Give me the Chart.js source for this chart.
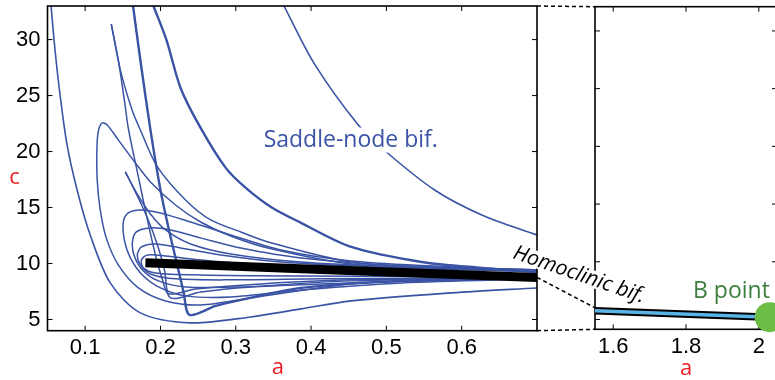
<!DOCTYPE html>
<html>
<head>
<meta charset="utf-8">
<script src="https://cdn.jsdelivr.net/npm/chart.js@4.4.0/dist/chart.umd.min.js"></script>
<style>
  html, body { margin: 0; padding: 0; background: #fff; overflow: hidden; }
  #wrap { position: relative; width: 775px; height: 380px; overflow: hidden; }
  canvas { position: absolute; left: 0; top: 0; }
</style>
</head>
<body>
<div id="wrap">
  <canvas id="mainChart" width="775" height="380"></canvas>
  <canvas id="zoomChart" width="800" height="380"></canvas>
</div>
<script>
// axis ticks
const mainXTicks = [0.1, 0.2, 0.3, 0.4, 0.5, 0.6];
const mainYTicks = [5, 10, 15, 20, 25, 30];
const zoomXTicks = [1.6, 1.8, 2.0];
const zoomYTicks = [5, 6, 7, 8, 9, 10];

// saddle-node curves, [a, c] pairs
const outerCurve = [[0.0547,33],[0.06,29.07],[0.0667,25.05],[0.076,20.59],[0.0893,16.57],[0.1067,12.55],[0.1333,8.27],[0.1733,5.59],[0.24,4.7],[0.32,5.23],[0.3867,5.95],[0.4533,6.66],[0.5867,7.38],[0.7,7.82]];
const saddleCurve = [[0.364,33],[0.404,27.88],[0.4627,22.38],[0.5,19.96],[0.564,16.57],[0.6267,14.34],[0.7,12.55]];
const curveD = [[0.1907,33],[0.208,29.96],[0.2267,25.68],[0.2533,22.11],[0.2867,18.54],[0.3133,16.75],[0.3467,15.05],[0.3867,13.63],[0.4533,11.48],[0.5467,10.14],[0.6267,9.61],[0.7,9.25]];
const curveC = [[0.1636,33],[0.1733,28.18],[0.1867,21.93],[0.2,16.57],[0.2107,13.18],[0.2213,10.14],[0.2307,7.46],[0.2387,5.41],[0.2733,6.21],[0.3067,6.75],[0.3867,7.82],[0.52,8.45],[0.7,8.71]];
const cuspBUpper = [[0.1347,31.39],[0.1467,27.29],[0.1623,23.71],[0.1733,21.93],[0.196,18.63],[0.2333,15.68],[0.2667,13.89],[0.3067,12.82],[0.3427,11.93],[0.4533,10.14],[0.5867,9.61],[0.7,9.34]];
const cuspBLower = [[0.1347,31.39],[0.144,28.18],[0.152,24.61],[0.1577,21.93],[0.1707,17.73],[0.1827,13.89],[0.1933,10.77],[0.2027,8.54],[0.2107,7.29],[0.2467,7.73],[0.3333,8.18],[0.4533,8.54],[0.7,8.75]];
const loopE = [[0.7,8.71],[0.5867,8.54],[0.4533,8.18],[0.32,6.93],[0.2533,6.3],[0.2067,6.66],[0.1707,7.82],[0.144,9.88],[0.128,12.29],[0.12,14.79],[0.116,17.46],[0.1156,20.14],[0.1173,21.75],[0.1223,22.55],[0.1293,22.38],[0.144,21.04],[0.1667,18.98],[0.1867,17.29],[0.22,15.23],[0.2533,13.71],[0.2933,12.46],[0.3427,11.39],[0.4533,9.96],[0.5867,9.52],[0.7,9.25]];
const cuspFLower = [[0.1533,18.18],[0.1667,16.39],[0.1827,14.07],[0.196,11.66],[0.2053,9.43],[0.2133,6.93],[0.2533,7.46],[0.32,7.91],[0.4533,8.45],[0.7,8.71]];
const cuspFUpper = [[0.1533,18.18],[0.1707,16.04],[0.1867,14.43],[0.2067,13.0],[0.24,11.75],[0.2933,10.86],[0.3867,10.14],[0.52,9.7],[0.7,9.34]];
const loop1 = [[0.7,9.43],[0.5867,9.7],[0.4533,10.23],[0.36,11.21],[0.2933,12.55],[0.24,13.71],[0.2,14.52],[0.1733,14.79],[0.1573,14.52],[0.1507,13.71],[0.152,12.11],[0.16,10.5],[0.176,8.98],[0.2,7.82],[0.2333,7.11],[0.2933,7.02],[0.3867,7.64],[0.52,8.27],[0.7,8.63]];
const loop2 = [[0.7,9.43],[0.52,9.79],[0.3867,10.5],[0.3067,11.39],[0.2533,12.29],[0.2133,13.0],[0.1867,13.18],[0.168,12.82],[0.1627,11.84],[0.1653,10.68],[0.176,9.43],[0.1973,8.45],[0.2333,7.91],[0.3067,7.91],[0.4133,8.18],[0.5467,8.45],[0.7,8.71]];
const loop3 = [[0.7,9.34],[0.4933,9.7],[0.36,10.14],[0.28,10.77],[0.2267,11.39],[0.1933,11.75],[0.1747,11.48],[0.1693,10.77],[0.1733,9.88],[0.1867,9.07],[0.22,8.63],[0.2933,8.54],[0.4133,8.63],[0.7,8.75]];
const loop4 = [[0.7,9.34],[0.4533,9.61],[0.3333,9.88],[0.2533,10.32],[0.2067,10.68],[0.1827,10.77],[0.1747,10.32],[0.1773,9.61],[0.1933,9.16],[0.2533,8.98],[0.3867,8.89],[0.7,8.8]];

// homoclinic bifurcation line
const hcMainA = [0.18, 0.36, 0.7];
const hcMainC = [10.06, 9.6, 8.76];
const hcZoomA = [1.55, 2.03];
const hcZoomC = [5.15, 5.04];
const bPointA = [2.03];
const bPointC = [5.04];

const BLUE = '#3a53a4';
const RED = '#ec1c24';
const TICK_FONT = { family: '"Liberation Sans", Arial, sans-serif', size: 22 };
const LABEL_FAMILY = '"Open Sans", sans-serif';

const pts = (arr) => arr.map(p => ({ x: p[0], y: p[1] }));
const zip = (xs, ys) => xs.map((v, i) => ({ x: v, y: ys[i] }));

function curve(arr, width) {
  return {
    data: pts(arr), showLine: true, borderColor: BLUE, borderWidth: width || 1.5,
    pointRadius: 0, tension: 0.3, fill: false, order: 2,
  };
}

// box round the plot with ticks pointing inward (matlab style)
function drawBox(chart) {
  const { ctx, chartArea: { left, right, top, bottom }, scales: { x, y } } = chart;
  ctx.save();
  ctx.strokeStyle = '#000';
  ctx.lineWidth = 1;
  ctx.beginPath();
  x.ticks.forEach(t => {
    const px = x.getPixelForValue(t.value);
    ctx.moveTo(px, bottom); ctx.lineTo(px, bottom - 5);
    ctx.moveTo(px, top); ctx.lineTo(px, top + 5);
  });
  y.ticks.forEach(t => {
    const py = y.getPixelForValue(t.value);
    ctx.moveTo(left, py); ctx.lineTo(left + 5, py);
    ctx.moveTo(right, py); ctx.lineTo(right - 5, py);
  });
  ctx.stroke();
  ctx.lineWidth = 1.6;
  ctx.strokeRect(left, top, right - left, bottom - top);
  ctx.restore();
}

function scaleCfg(min, max, ticks, size, showLabels) {
  return {
    type: 'linear', min, max, bounds: 'data',
    grid: { display: false, drawTicks: false }, border: { display: false },
    ticks: {
      display: showLabels, font: TICK_FONT, color: '#000', padding: size.pad,
      maxRotation: 0, autoSkip: false, callback: (v) => String(v),
    },
    afterBuildTicks: (s) => { s.ticks = ticks.map(v => ({ value: v })); },
    afterFit: (s) => {
      if (size.w !== undefined) s.width = size.w;
      if (size.h !== undefined) s.height = size.h;
      s.paddingTop = 0; s.paddingBottom = 0; s.paddingLeft = 0; s.paddingRight = 0;
    },
  };
}

const mainDecor = {
  id: 'mainDecor',
  afterDatasetsDraw(chart) { drawBox(chart); },
  afterDraw(chart) {
    const { ctx, scales: { x, y }, chartArea } = chart;
    ctx.save();
    // saddle-node label, white box breaks the curve behind it
    ctx.font = `23px ${LABEL_FAMILY}`;
    ctx.textAlign = 'center';
    ctx.textBaseline = 'alphabetic';
    const label = 'Saddle-node bif.';
    const sx = x.getPixelForValue(0.4527), sy = y.getPixelForValue(20.44);
    const w = ctx.measureText(label).width;
    ctx.fillStyle = '#fff';
    ctx.fillRect(sx - w / 2 - 2, sy - 19, w + 4, 25);
    ctx.fillStyle = BLUE;
    ctx.fillText(label, sx, sy);
    // axis names
    ctx.font = `22px ${LABEL_FAMILY}`;
    ctx.fillStyle = RED;
    ctx.textBaseline = 'middle';
    ctx.fillText('c', chartArea.left - 33, y.getPixelForValue(17.64));
    ctx.fillText('a', x.getPixelForValue(0.356), 368);
    ctx.restore();
  },
};

const zoomDecor = {
  id: 'zoomDecor',
  beforeDatasetsDraw(chart) { drawBox(chart); },
  afterDraw(chart) {
    const main = Chart.getChart('mainChart');
    const ctx = chart.ctx;
    const m = main.chartArea, z = chart.chartArea;
    ctx.save();
    // dashed connectors to the zoomed panel
    ctx.strokeStyle = '#000';
    ctx.lineWidth = 1.5;
    ctx.setLineDash([4, 3]);
    ctx.beginPath();
    ctx.moveTo(m.right, m.top); ctx.lineTo(z.left, z.top);
    ctx.moveTo(m.right, m.bottom); ctx.lineTo(z.left, z.bottom);
    const n = hcMainA.length - 1;
    ctx.moveTo(main.scales.x.getPixelForValue(hcMainA[n]), main.scales.y.getPixelForValue(hcMainC[n]));
    ctx.lineTo(chart.scales.x.getPixelForValue(hcZoomA[0]), chart.scales.y.getPixelForValue(hcZoomC[0]) - 3);
    ctx.stroke();
    ctx.setLineDash([]);

    // homoclinic label, rotated along the dashed link
    const label = 'Homoclinic bif.';
    ctx.font = `italic 21px ${LABEL_FAMILY}`;
    ctx.translate(512, 258);
    ctx.rotate(19 * Math.PI / 180);
    const w = ctx.measureText(label).width;
    ctx.fillStyle = '#fff';
    ctx.fillRect(-1, -15, w + 2, 17);
    ctx.fillStyle = '#000';
    ctx.textAlign = 'left';
    ctx.textBaseline = 'alphabetic';
    ctx.fillText(label, 0, 0);
    ctx.setTransform(1, 0, 0, 1, 0, 0);

    ctx.font = `23px ${LABEL_FAMILY}`;
    ctx.fillStyle = '#3d7f3e';
    ctx.textAlign = 'left';
    ctx.fillText('B point', 693, 298);

    ctx.font = `22px ${LABEL_FAMILY}`;
    ctx.fillStyle = RED;
    ctx.textAlign = 'center';
    ctx.textBaseline = 'middle';
    ctx.fillText('a', chart.scales.x.getPixelForValue(1.8), 369);
    ctx.restore();
  },
};

const commonOpts = {
  responsive: false,
  animation: false,
  events: [],
  plugins: { legend: { display: false }, tooltip: { enabled: false } },
};

new Chart(document.getElementById('mainChart'), {
  type: 'scatter',
  data: {
    datasets: [
      {
        data: zip(hcMainA, hcMainC), showLine: true, borderColor: '#000', borderWidth: 9,
        borderCapStyle: 'butt', pointRadius: 0, tension: 0, order: 0,
      },
      curve(loop4), curve(loop3), curve(loop2), curve(loop1),
      curve(cuspFUpper), curve(cuspFLower), curve(loopE),
      curve(cuspBLower), curve(cuspBUpper),
      curve(curveC, 2.4), curve(curveD, 2.4),
      curve(saddleCurve, 1.6), curve(outerCurve, 1.6),
    ],
  },
  options: {
    ...commonOpts,
    layout: { autoPadding: false, padding: { left: 0, right: 238, top: 6, bottom: 0 } },
    scales: {
      x: scaleCfg(0.05, 0.7, mainXTicks, { h: 49.3, pad: 4 }, true),
      y: scaleCfg(4, 33, mainYTicks, { w: 47.5, pad: 7 }, true),
    },
  },
  plugins: [mainDecor],
});

new Chart(document.getElementById('zoomChart'), {
  type: 'scatter',
  data: {
    datasets: [
      {
        data: zip(bPointA, bPointC), pointRadius: 15, pointBackgroundColor: '#6cbd45',
        pointBorderWidth: 0, showLine: false, order: 0, clip: false,
      },
      {
        data: zip(hcZoomA, hcZoomC), showLine: true, borderColor: '#59b4e6', borderWidth: 3.5,
        borderCapStyle: 'butt', pointRadius: 0, order: 1,
      },
      {
        data: zip(hcZoomA, hcZoomC), showLine: true, borderColor: '#000', borderWidth: 7.5,
        borderCapStyle: 'butt', pointRadius: 0, order: 2,
      },
    ],
  },
  options: {
    ...commonOpts,
    layout: { autoPadding: false, padding: { left: 595, right: 23, top: 6.7, bottom: 0 } },
    scales: {
      x: scaleCfg(1.55, 2.05, zoomXTicks, { h: 50.7, pad: 4 }, true),
      y: scaleCfg(4.83, 10.42, zoomYTicks, { w: 0, pad: 0 }, false),
    },
  },
  plugins: [zoomDecor],
});
</script>
</body>
</html>
